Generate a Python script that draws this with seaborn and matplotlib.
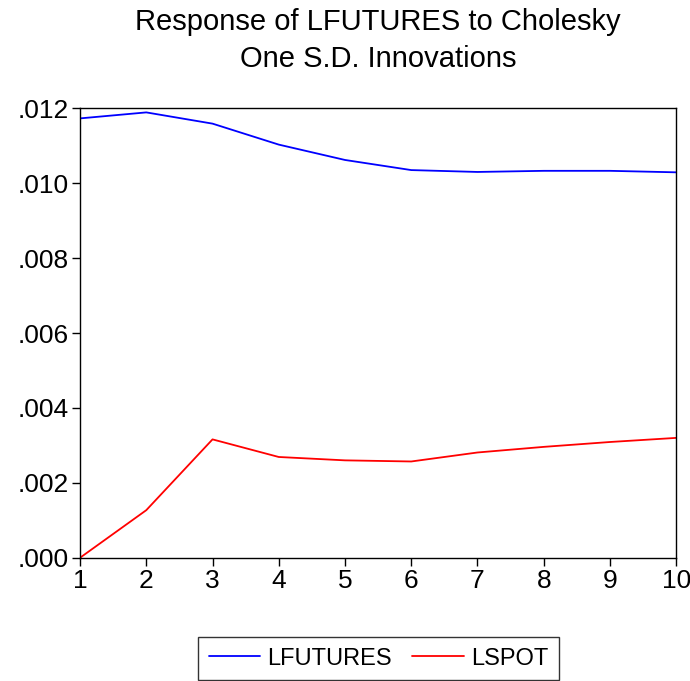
import matplotlib
matplotlib.use("Agg")
import matplotlib.pyplot as plt
import seaborn as sns
import pandas as pd

periods = [1, 2, 3, 4, 5, 6, 7, 8, 9, 10]
lfutures = [0.01173, 0.01189, 0.01159, 0.01103, 0.01062, 0.01035, 0.01030, 0.01033, 0.01033, 0.01029]
lspot = [0.0, 0.00127, 0.00316, 0.00269, 0.00260, 0.00257, 0.00281, 0.00296, 0.00309, 0.00320]
series_names = ["LFUTURES", "LSPOT"]
yticks = [0.000, 0.002, 0.004, 0.006, 0.008, 0.010, 0.012]
ytick_labels = [".000", ".002", ".004", ".006", ".008", ".010", ".012"]

df = pd.DataFrame({
    "period": periods * 2,
    "value": lfutures + lspot,
    "series": [series_names[0]] * len(periods) + [series_names[1]] * len(periods),
})

sns.set_theme(style="ticks")
plt.rcParams["font.family"] = ["Liberation Sans", "DejaVu Sans"]
plt.rcParams["text.color"] = "black"
plt.rcParams["xtick.color"] = "black"
plt.rcParams["ytick.color"] = "black"

fig = plt.figure(figsize=(6.9, 6.81), dpi=100)
ax = fig.add_axes([0.116, 0.181, 0.864, 0.660])
sns.lineplot(data=df, x="period", y="value", hue="series",
             palette={"LFUTURES": "#0000ff", "LSPOT": "#ff0000"},
             linewidth=1.3, ax=ax, legend=False)

ax.set_xlim(1, 10)
ax.set_ylim(0, 0.012)
ax.set_xticks(periods)
ax.set_xticklabels([str(p) for p in periods], fontsize=19)
ax.set_yticks(yticks)
ax.set_yticklabels(ytick_labels, fontsize=19)
ax.tick_params(axis="both", direction="out", length=6, width=1, color="black", labelcolor="black", pad=2)
for s in ax.spines.values():
    s.set_visible(True)
    s.set_color("black")
    s.set_linewidth(1)
ax.set_xlabel("")
ax.set_ylabel("")
fig.text(0.548, 0.967, "Response of LFUTURES to Cholesky", ha="center", va="center", fontsize=21, color="black")
fig.text(0.548, 0.914, "One S.D. Innovations", ha="center", va="center", fontsize=21, color="black")

from matplotlib.lines import Line2D
handles = [Line2D([], [], color="#0000ff", lw=1.3), Line2D([], [], color="#ff0000", lw=1.3)]
leg = fig.legend(handles, series_names, loc="upper center", bbox_to_anchor=(0.5486, 0.0646),
                 ncol=2, frameon=True, fancybox=False, fontsize=17, handlelength=2.2,
                 columnspacing=0.85, handletextpad=0.3, borderpad=0.45, borderaxespad=0)
leg.get_frame().set_edgecolor("black")
leg.get_frame().set_linewidth(1)
for t in leg.get_texts():
    t.set_color("black")

fig.savefig("out.png", dpi=100)
